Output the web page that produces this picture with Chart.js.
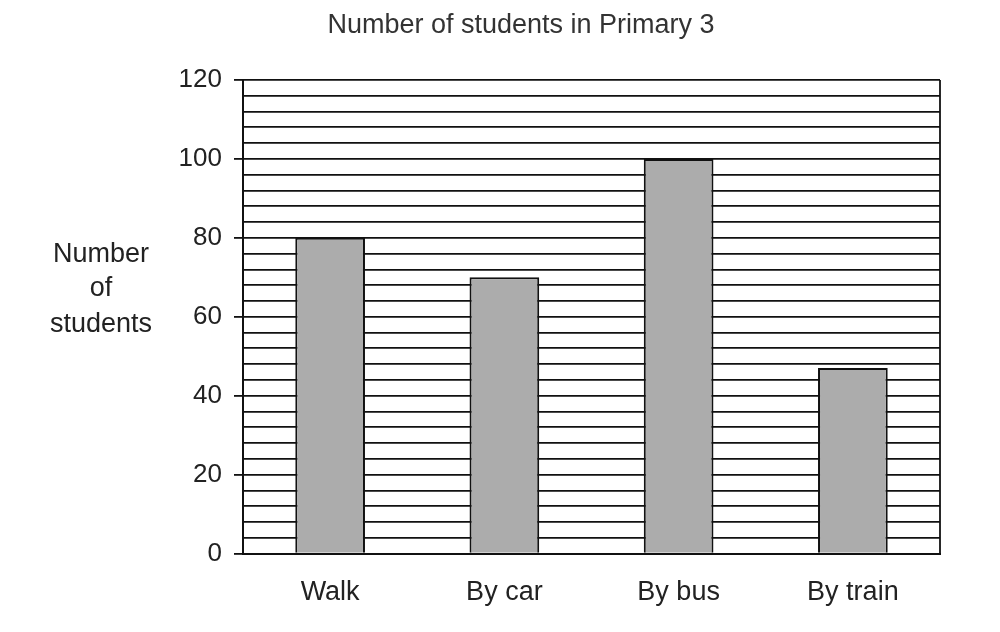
<!DOCTYPE html>
<html>
<head>
<meta charset="utf-8">
<script src="https://cdn.jsdelivr.net/npm/chart.js@4.4.1/dist/chart.umd.min.js"></script>
<style>
  html, body { margin: 0; padding: 0; background: #fff; }
  #wrap { width: 1000px; height: 632px; position: relative; }
</style>
</head>
<body>
<div id="wrap"><canvas id="c"></canvas></div>
<script>
const categories = ["Walk", "By car", "By bus", "By train"];
const studentCounts = [80, 70, 100, 47];
const chartTitle = "Number of students in Primary 3";
const yAxisTitleLines = ["Number", "of", "students"];
const yMin = 0, yMax = 120, gridStep = 4, labelStep = 20;

const FONT = "'Liberation Sans', Arial, sans-serif";

const textPlugin = {
  id: 'textLabels',
  afterDraw(chart) {
    const ctx = chart.ctx;
    ctx.save();
    ctx.fillStyle = "#333";
    ctx.textAlign = "center";
    ctx.textBaseline = "alphabetic";
    ctx.font = "27px " + FONT;
    ctx.fillText(chartTitle, 521, 33);
    ctx.fillStyle = "#222";
    const baselines = [262, 296, 332];
    yAxisTitleLines.forEach((t, i) => ctx.fillText(t, 101, baselines[i]));
    ctx.restore();
  }
};

const frameRightPlugin = {
  id: 'frameRight',
  afterDatasetsDraw(chart) {
    const a = chart.chartArea, ctx = chart.ctx;
    ctx.save();
    ctx.strokeStyle = "#111";
    ctx.lineWidth = 1.8;
    ctx.beginPath();
    ctx.moveTo(a.right, a.top);
    ctx.lineTo(a.right, a.bottom);
    ctx.stroke();
    ctx.restore();
  }
};

new Chart(document.getElementById('c'), {
  type: 'bar',
  data: {
    labels: categories,
    datasets: [{
      data: studentCounts,
      backgroundColor: "#acacac",
      borderColor: "#111",
      borderWidth: 2,
      barPercentage: 0.4,
      categoryPercentage: 1.0
    }]
  },
  options: {
    responsive: true,
    maintainAspectRatio: false,
    animation: false,
    layout: { padding: { left: 0, right: 60, top: 80, bottom: 0 } },
    plugins: {
      legend: { display: false },
      tooltip: { enabled: false },
      title: { display: false }
    },
    scales: {
      x: {
        grid: { display: false, drawTicks: false },
        border: { display: true, color: "#111", width: 2 },
        ticks: { color: "#222", font: { family: FONT, size: 27 }, padding: 23 }
      },
      y: {
        min: yMin,
        max: yMax,
        afterFit(scale) { scale.width = 243; },
        grid: {
          color: "#111",
          lineWidth: 1.8,
          drawTicks: true,
          tickLength: 9,
          tickColor: (c) => (c.tick && c.tick.value % labelStep === 0) ? "#111" : "rgba(0,0,0,0)"
        },
        border: { display: true, color: "#111", width: 2 },
        ticks: {
          stepSize: gridStep,
          autoSkip: false,
          padding: 12,
          color: "#222",
          font: { family: FONT, size: 26 },
          callback: (v) => (v % labelStep === 0 ? String(v) : "")
        }
      }
    }
  },
  plugins: [textPlugin, frameRightPlugin]
});
</script>
</body>
</html>
